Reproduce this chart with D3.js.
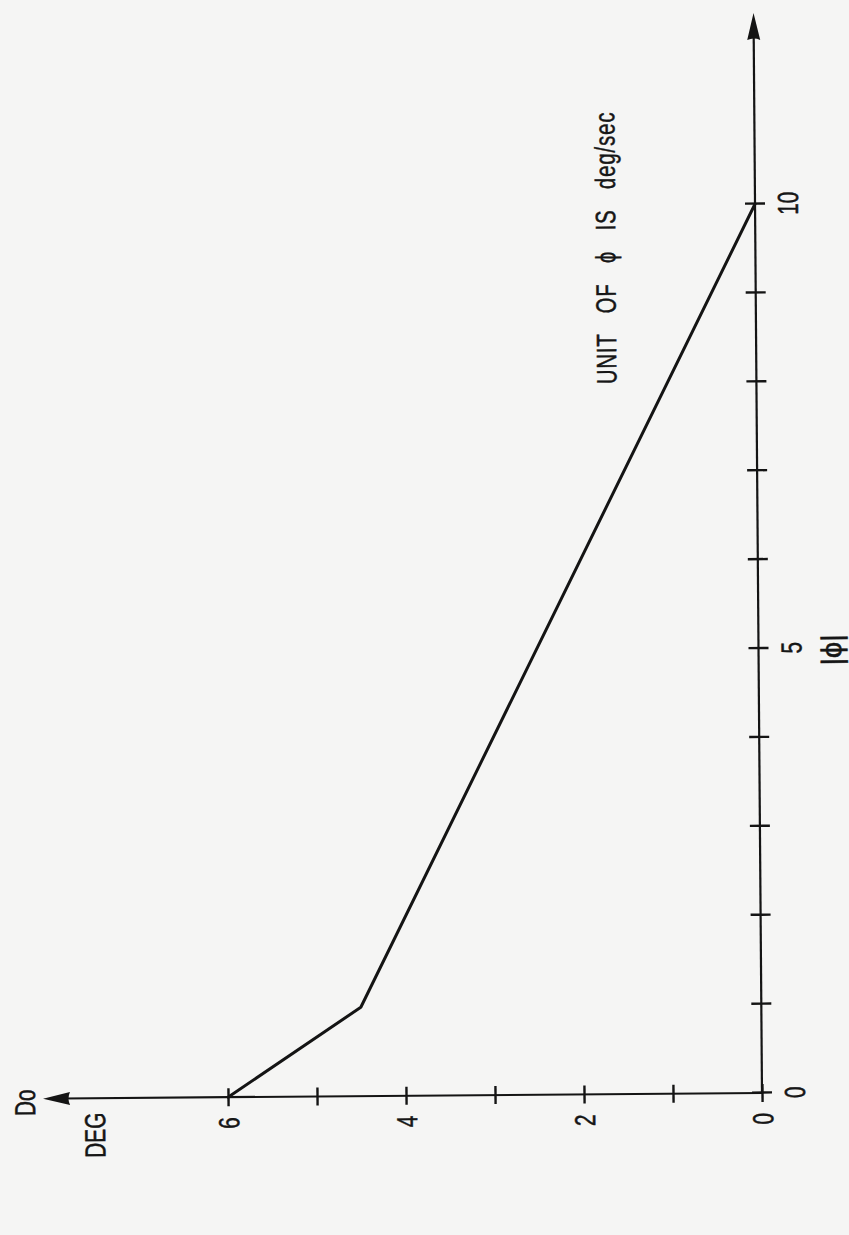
<!DOCTYPE html>
<html>
<head>
<meta charset="utf-8">
<script src="https://cdn.jsdelivr.net/npm/d3@7"></script>
<style>
  html, body { margin: 0; padding: 0; background: #f5f5f4; }
  svg { display: block; }
  text { font-family: "Liberation Sans", "DejaVu Sans", sans-serif; fill: #161616;
         stroke: #161616; stroke-width: 0.5px; }
</style>
</head>
<body>
<svg id="chart" width="849" height="1235"></svg>
<script>
// |phi| (deg/sec) against the dead-zone angle Do (deg)
const phiValues = [0, 1, 10];
const doValues = [6, 4.5, 0];

const phiTicks = [0, 1, 2, 3, 4, 5, 6, 7, 8, 9, 10];
const phiTickLabels = [0, 5, 10];
const doTicks = [0, 1, 2, 3, 4, 5, 6];
const doTickLabels = [0, 2, 4, 6];

const phiTitle = "|\u03D5|";
const doTitle = "Do";
const doUnit = "DEG";
const unitNote = "UNIT OF \u03D5 IS deg/sec";

const svg = d3.select("#chart");
svg.append("rect").attr("width", 849).attr("height", 1235).attr("fill", "#f5f5f4");

// The plot sits sideways on the page: the |phi| axis runs up, Do runs left.
const origin = [762, 1093];
const plot = svg.append("g")
  .attr("transform", `translate(${origin[0]},${origin[1]}) rotate(-90.45)`);

const x = d3.scaleLinear().domain([0, 10]).range([0, 889]);
const y = d3.scaleLinear().domain([0, 6]).range([0, -534]);

const ink = "#141414";
const narrow = 0.72;

// axis lines with arrowheads
const xEnd = 1080, yEnd = -719;
plot.append("line").attr("x1", 0).attr("y1", 0).attr("x2", xEnd - 20).attr("y2", 0)
  .attr("stroke", ink).attr("stroke-width", 2.2);
plot.append("path").attr("d", `M${xEnd},0 L${xEnd - 27},-6.5 Q${xEnd - 24},0 ${xEnd - 27},6.5 Z`)
  .attr("fill", ink);
plot.append("line").attr("x1", 0).attr("y1", 0).attr("x2", 0).attr("y2", yEnd + 20)
  .attr("stroke", ink).attr("stroke-width", 2.2);
plot.append("path").attr("d", `M0,${yEnd} L-6.5,${yEnd + 27} Q0,${yEnd + 24} 6.5,${yEnd + 27} Z`)
  .attr("fill", ink);

// |phi| axis (ticks cross the line, labels on the outer side)
const gx = plot.append("g").call(
  d3.axisBottom(x).tickValues(phiTicks).tickSize(0)
    .tickFormat(d => phiTickLabels.includes(d) ? String(d) : "")
);
gx.select(".domain").remove();
gx.selectAll(".tick line").attr("y1", -10).attr("y2", 10)
  .attr("stroke", ink).attr("stroke-width", 2.4);
gx.selectAll(".tick text")
  .attr("x", 0).attr("y", 0).attr("dy", null)
  .attr("transform", "translate(0,43) scale(" + narrow + ",1)")
  .attr("text-anchor", "middle")
  .style("font-size", "29px").style("font-family", null).attr("fill", ink);

// Do axis
const gy = plot.append("g").call(
  d3.axisLeft(y).tickValues(doTicks).tickSize(0)
    .tickFormat(d => doTickLabels.includes(d) ? String(d) : "")
);
gy.select(".domain").remove();
gy.selectAll(".tick line").attr("x1", -9).attr("x2", 9)
  .attr("stroke", ink).attr("stroke-width", 2.4);
gy.selectAll(".tick text")
  .attr("x", 0).attr("y", 0).attr("dy", "0.36em")
  .attr("transform", "translate(-20,0) scale(" + narrow + ",1)")
  .attr("text-anchor", "end")
  .style("font-size", "29px").style("font-family", null).attr("fill", ink);

// the curve
const curve = phiValues.map((p, i) => [p, doValues[i]]);
plot.append("path").datum(curve)
  .attr("d", d3.line().x(d => x(d[0])).y(d => y(d[1])))
  .attr("fill", "none").attr("stroke", ink).attr("stroke-width", 3)
  .attr("stroke-linejoin", "round").attr("stroke-linecap", "round");

// titles and note
function label(txt, tx, ty, anchor, sx, size, wordGap, letterGap) {
  const t = plot.append("text").text(txt)
    .attr("transform", `translate(${tx},${ty}) scale(${sx},1)`)
    .attr("text-anchor", anchor)
    .style("font-size", size + "px").attr("fill", ink);
  if (wordGap) t.style("word-spacing", wordGap + "px");
  if (letterGap) t.style("letter-spacing", letterGap + "px");
  return t;
}
label(phiTitle, x(5) - 2, 83, "middle", 1, 29);
label(doTitle, -4, -727, "middle", narrow, 29);
label(doUnit, -37, -657, "middle", narrow, 29);
label(unitNote, 710, -140, "start", narrow, 28, 19, 1.4);
</script>
</body>
</html>
